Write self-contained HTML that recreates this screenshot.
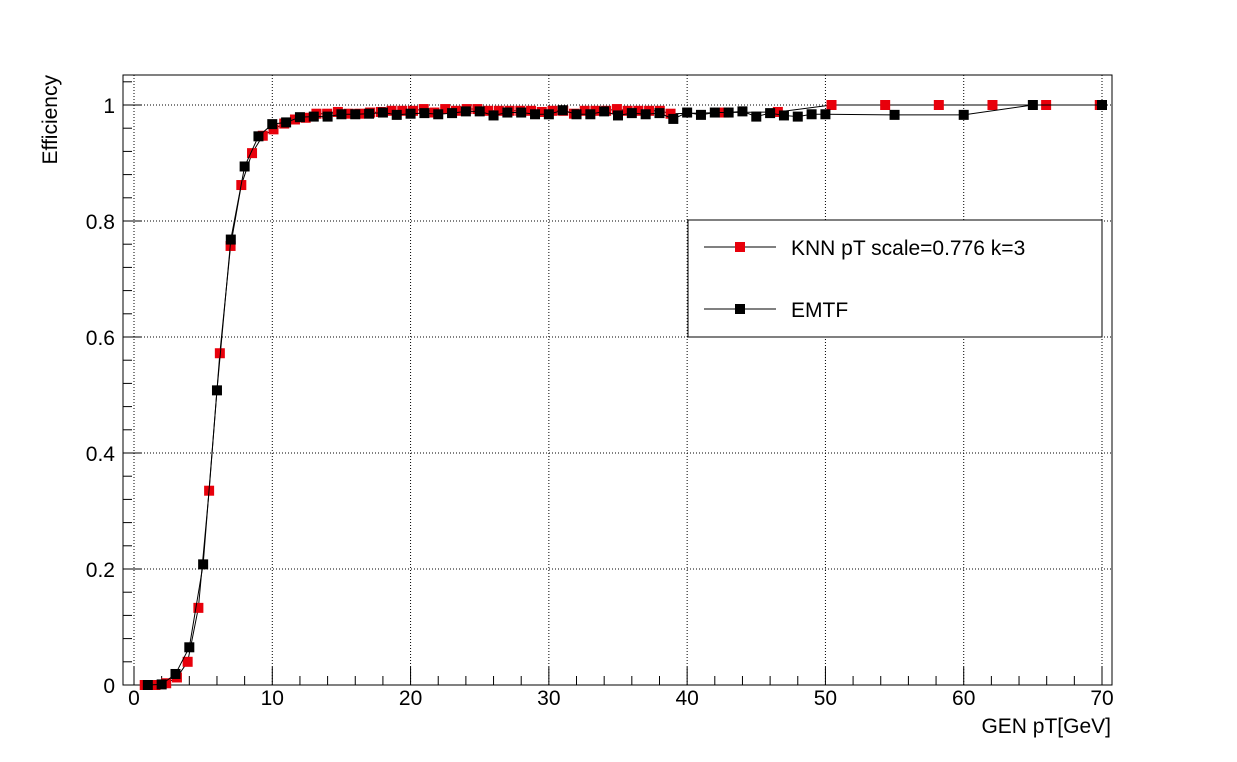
<!DOCTYPE html>
<html><head><meta charset="utf-8"><style>
html,body{margin:0;padding:0;background:#fff;}
svg{display:block;font-family:"Liberation Sans",sans-serif;}
</style></head><body>
<svg id="chart" width="1237" height="762"></svg>
<script>
const blackX = [1,2,3,4,5,6,7,8,9,10,11,12,13,14,15,16,17,18,19,20,21,22,23,24,25,26,27,28,29,30,31,32,33,34,35,36,37,38,39,40,41,42,43,44,45,46,47,48,49,50,55,60,65,70];
const blackY = [0,0.001,0.019,0.065,0.208,0.508,0.768,0.894,0.946,0.967,0.970,0.979,0.980,0.980,0.984,0.984,0.985,0.987,0.983,0.985,0.986,0.984,0.986,0.989,0.989,0.982,0.987,0.987,0.984,0.984,0.991,0.984,0.984,0.989,0.982,0.986,0.984,0.986,0.976,0.987,0.983,0.987,0.987,0.989,0.980,0.986,0.982,0.980,0.984,0.984,0.983,0.983,1.0,1.0];
const redBins = [1,2,3,4,5,6,7,8,9,10,11,12,13,14,15,16,17,18,19,20,21,22,23,24,25,26,27,28,29,30,31,32,33,34,35,36,37,38,39,40,41,42,43,44,45,46,47,48,49,50,55,60,65,70,75,80,85,90];
const redY = [0,0,0.003,0.013,0.04,0.133,0.335,0.572,0.757,0.862,0.917,0.947,0.958,0.968,0.975,0.978,0.985,0.985,0.988,0.985,0.985,0.987,0.988,0.99,0.99,0.99,0.993,0.987,0.993,0.99,0.993,0.993,0.99,0.99,0.99,0.99,0.99,0.988,0.99,0.99,0.985,0.99,0.99,0.99,0.993,0.99,0.99,0.99,0.99,0.985,0.987,0.988,1,1,1,1,1,1];
const redScale = 0.776;
const xTicks = [0,10,20,30,40,50,60,70];
const yTicks = [0,0.2,0.4,0.6,0.8,1];
const yTickLabels = ["0","0.2","0.4","0.6","0.8","1"];

const NS="http://www.w3.org/2000/svg";
const svg=document.getElementById('chart');
const L=123,R=1112,T=75,B=685;
const x0px=134, pxPerUnit=(1102-134)/70;
const sx=v=>x0px+v*pxPerUnit;
const sy=v=>B-v*580;
function mk(tag,attrs,parent){const e=document.createElementNS(NS,tag);for(const k in attrs)e.setAttribute(k,attrs[k]);(parent||svg).appendChild(e);return e;}

const grid=mk('g',{});


xTicks.forEach(v=>mk('line',{x1:sx(v),x2:sx(v),y1:T,y2:B,stroke:'#000','stroke-width':1,'stroke-dasharray':'1,2'},grid));
yTicks.forEach(v=>mk('line',{x1:L,x2:R,y1:sy(v),y2:sy(v),stroke:'#000','stroke-width':1,'stroke-dasharray':'1,2'},grid));

const frame=mk('rect',{x:L,y:T,width:R-L,height:B-T,fill:'none',stroke:'#000','stroke-width':1});



const ax=mk('g',{stroke:'#000','stroke-width':1});


for(let v=0;v<=70;v+=2){const big=v%10===0;mk('line',{x1:sx(v),x2:sx(v),y1:B,y2:B-(big?18:9)},ax);}
for(let i=0;i<=26;i++){const v=i*0.04;const big=i%5===0;if(sy(v)<T)continue;mk('line',{x1:L,x2:L+(big?18:9),y1:sy(v),y2:sy(v)},ax);}

xTicks.forEach(v=>{const t=mk('text',{x:sx(v),y:B+20,'text-anchor':'middle','font-size':21});t.textContent=String(v);

});
yTicks.forEach((v,i)=>{const t=mk('text',{x:L-8,y:sy(v)+8,'text-anchor':'end','font-size':21});t.textContent=yTickLabels[i];

});

const xt=mk('text',{x:1111,y:733,'text-anchor':'end','font-size':21});xt.textContent='GEN pT[GeV]';


const yt=mk('text',{x:57,y:75,'text-anchor':'end','font-size':21,transform:'rotate(-90 57 75)'});yt.textContent='Efficiency';



function series(xs,ys,color,name){
  const g=mk('g',{});
  
  
  const pts=xs.map((x,i)=>[sx(x),sy(ys[i])]).filter(p=>p[0]<=R);
  mk('polyline',{points:pts.map(p=>p.join(',')).join(' '),fill:'none',stroke:'#000','stroke-width':1},g);
  pts.forEach(p=>{const m=mk('rect',{x:p[0]-5,y:p[1]-5,width:10,height:10,fill:color},g);
    
    });
}
series(redBins.map(b=>b*redScale),redY,'#e8000b','knn-series');
series(blackX,blackY,'#000','emtf-series');

const lg=mk('g',{});


mk('rect',{x:688,y:220,width:414,height:117,fill:'#fff',stroke:'#000','stroke-width':1},lg);
[[247,'#e8000b','KNN pT scale=0.776 k=3'],[309,'#000','EMTF']].forEach(([y,c,txt])=>{
  const e=mk('g',{},lg);
  
  
  mk('line',{x1:704,x2:776,y1:y,y2:y,stroke:'#000','stroke-width':1},e);
  mk('rect',{x:735,y:y-5,width:10,height:10,fill:c},e);
  const t=mk('text',{x:791,y:y+8,'font-size':21},e);t.textContent=txt;
});
</script>
</body></html>
